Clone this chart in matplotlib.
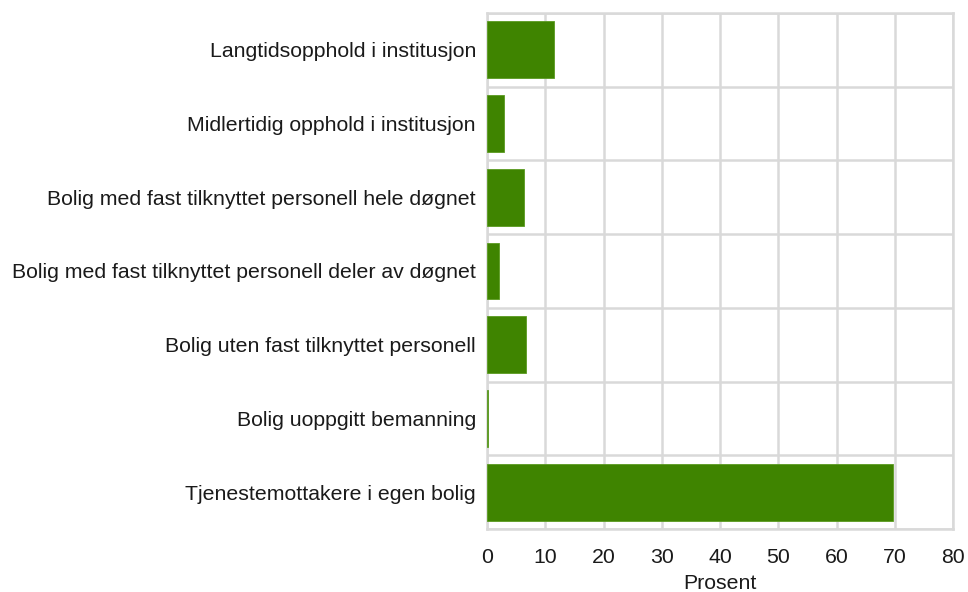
import matplotlib
matplotlib.use("Agg")
import matplotlib.pyplot as plt

categories = [
    "Langtidsopphold i institusjon",
    "Midlertidig opphold i institusjon",
    "Bolig med fast tilknyttet personell hele døgnet",
    "Bolig med fast tilknyttet personell deler av døgnet",
    "Bolig uten fast tilknyttet personell",
    "Bolig uoppgitt bemanning",
    "Tjenestemottakere i egen bolig",
]
values = [11.5, 2.9, 6.4, 2.0, 6.7, 0.25, 69.7]
x_ticks = [0, 10, 20, 30, 40, 50, 60, 70, 80]
x_label = "Prosent"

plt.rcParams["font.family"] = ["Liberation Sans", "DejaVu Sans"]
fs = 15.3

fig = plt.figure(figsize=(9.68, 5.92), dpi=100)
ax = fig.add_axes([487/968, 1-529/592, (953-487)/968, (529-13)/592])

n = len(categories)
ypos = list(range(n))
ax.barh(ypos, values, height=0.77, color="#3f8400", edgecolor="#5a9a20", linewidth=0.6, zorder=3)
ax.set_ylim(n-0.5, -0.5)
ax.set_xlim(0, 80)
ax.set_xticks(x_ticks)
ax.set_xticklabels([str(t) for t in x_ticks], fontsize=fs, color="#1a1a1a")
ax.set_yticks(ypos)
ax.set_yticklabels(categories, fontsize=fs, color="#1a1a1a")
ax.set_yticks([i-0.5 for i in range(n+1)], minor=True)
ax.tick_params(axis="both", which="both", length=0)
ax.tick_params(axis="y", pad=8)
ax.tick_params(axis="x", pad=13.5)
ax.grid(axis="x", which="major", color="#d9d9d9", linewidth=1.8, zorder=0)
ax.grid(axis="y", which="minor", color="#d9d9d9", linewidth=1.8, zorder=0)
ax.grid(axis="y", which="major", visible=False)
for s in ax.spines.values():
    s.set_color("#d9d9d9")
    s.set_linewidth(1.8)
ax.set_xlabel(x_label, fontsize=fs, labelpad=5.5, color="#1a1a1a")

fig.savefig("out.png", dpi=100)
